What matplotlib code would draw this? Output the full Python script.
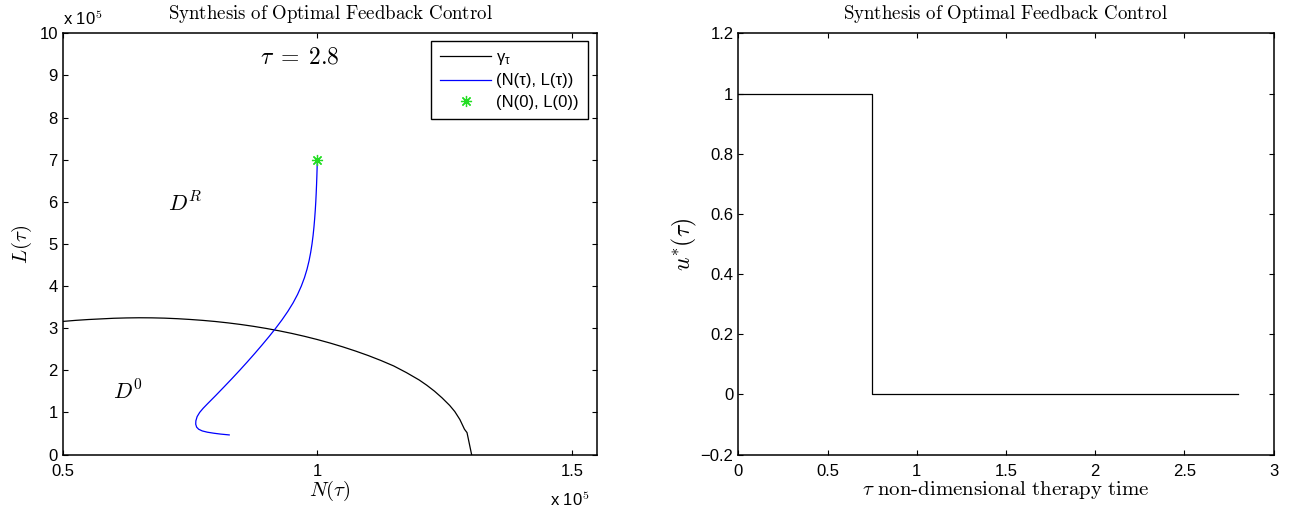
import matplotlib
matplotlib.use("Agg")
import matplotlib.pyplot as plt
from matplotlib.ticker import FuncFormatter, FixedLocator
from matplotlib.font_manager import FontProperties

plt.rcParams['mathtext.fontset'] = 'cm'
plt.rcParams['font.family'] = ['Liberation Sans', 'DejaVu Sans']
plt.rcParams['axes.unicode_minus'] = True

# ---- data (left panel: phase plane, values in absolute units) ----
gamma_N = [0.500e5, 0.525e5, 0.550e5, 0.575e5, 0.600e5, 0.625e5, 0.650e5, 0.675e5, 0.700e5,
           0.725e5, 0.750e5, 0.775e5, 0.800e5, 0.825e5, 0.850e5, 0.875e5, 0.900e5, 0.925e5,
           0.950e5, 0.975e5, 1.000e5, 1.025e5, 1.050e5, 1.075e5, 1.100e5, 1.125e5, 1.150e5,
           1.175e5, 1.200e5, 1.215e5, 1.230e5, 1.245e5, 1.260e5, 1.270e5, 1.280e5, 1.289e5,
           1.294e5, 1.303e5]
gamma_L = [3.160e5, 3.185e5, 3.205e5, 3.220e5, 3.235e5, 3.243e5, 3.247e5, 3.245e5, 3.238e5,
           3.225e5, 3.207e5, 3.185e5, 3.158e5, 3.125e5, 3.087e5, 3.043e5, 2.993e5, 2.937e5,
           2.875e5, 2.806e5, 2.730e5, 2.647e5, 2.556e5, 2.457e5, 2.350e5, 2.232e5, 2.103e5,
           1.945e5, 1.770e5, 1.645e5, 1.505e5, 1.345e5, 1.165e5, 1.020e5, 0.830e5, 0.600e5,
           0.520e5, 0.0]

traj_N = [1.0000e5, 0.9996e5, 0.9991e5, 0.9985e5, 0.9978e5, 0.9970e5, 0.9960e5, 0.9948e5,
          0.9934e5, 0.9917e5, 0.9896e5, 0.9870e5, 0.9838e5, 0.9798e5, 0.9748e5, 0.9686e5,
          0.9612e5, 0.9524e5, 0.9422e5, 0.9308e5, 0.9184e5, 0.9052e5, 0.8914e5, 0.8772e5,
          0.8626e5, 0.8476e5, 0.8322e5, 0.8164e5, 0.8004e5, 0.7840e5, 0.7760e5, 0.7690e5,
          0.7640e5, 0.7615e5, 0.7612e5, 0.7630e5, 0.7670e5, 0.7740e5, 0.7840e5, 0.7970e5,
          0.8100e5, 0.8270e5]
traj_L = [7.00e5, 6.80e5, 6.60e5, 6.40e5, 6.20e5, 6.00e5, 5.80e5, 5.60e5,
          5.40e5, 5.20e5, 5.00e5, 4.80e5, 4.60e5, 4.40e5, 4.20e5, 4.00e5,
          3.80e5, 3.60e5, 3.40e5, 3.20e5, 3.00e5, 2.80e5, 2.60e5, 2.40e5,
          2.20e5, 2.00e5, 1.80e5, 1.60e5, 1.40e5, 1.20e5, 1.10e5, 1.00e5,
          0.90e5, 0.80e5, 0.72e5, 0.65e5, 0.60e5, 0.56e5, 0.53e5, 0.505e5,
          0.485e5, 0.465e5]

start_N = [1.0e5]
start_L = [7.0e5]

tau_final = 2.8

# ---- data (right panel: bang-bang control) ----
ctrl_t = [0.0, 0.75, 2.8]
ctrl_u = [1.0, 0.0, 0.0]

x1_ticks = [0.5e5, 1.0e5, 1.5e5]
y1_ticks = [i * 1e5 for i in range(0, 11)]
x2_ticks = [0, 0.5, 1, 1.5, 2, 2.5, 3]
y2_ticks = [-0.2, 0, 0.2, 0.4, 0.6, 0.8, 1.0, 1.2]

title_txt = r'$\mathrm{Synthesis\ of\ Optimal\ Feedback\ Control}$'

fig = plt.figure(figsize=(12.93, 5.08), dpi=100)
ax1 = fig.add_axes([0.0485, 0.1053, 0.4135, 0.829])
ax2 = fig.add_axes([0.571, 0.1053, 0.414, 0.829])

TICK_FS = 12

def style(ax):
    for s in ax.spines.values():
        s.set_linewidth(1.1)
    ax.tick_params(direction='in', length=3.5, width=0.8, top=True, right=True,
                   labelsize=TICK_FS)
    ax.tick_params(axis='x', pad=6.5)
    ax.tick_params(axis='y', pad=3.5)

# left panel
ax1.plot(gamma_N, gamma_L, color='black', lw=0.9, label=r'$\mathregular{γ_{τ}}$')
ax1.plot(traj_N, traj_L, color='#0000ff', lw=0.9, label='(N(τ), L(τ))')
ax1.plot(start_N, start_L, linestyle='none', marker=(8, 2, 0), markersize=8,
         markeredgewidth=0.9, color='#22dd22', label='(N(0), L(0))')
ax1.set_xlim(0.5e5, 1.55e5)
ax1.set_ylim(0, 10e5)
ax1.xaxis.set_major_locator(FixedLocator(x1_ticks))
ax1.yaxis.set_major_locator(FixedLocator(y1_ticks))
ax1.xaxis.set_major_formatter(FuncFormatter(lambda v, p: ('%g' % (v / 1e5))))
ax1.yaxis.set_major_formatter(FuncFormatter(lambda v, p: ('%g' % (v / 1e5))))
style(ax1)
ax1.set_title(title_txt, fontsize=13.6, pad=10.5)
ax1.set_xlabel(r'$N(\tau)$', fontsize=15, labelpad=0)
ax1.set_ylabel(r'$L(\tau)$', fontsize=15, labelpad=4)
ax1.text(0.965e5, 9.42e5, r'$\tau \;=\; %g$' % tau_final, fontsize=17, ha='center', va='center')
ax1.text(0.74e5, 5.93e5, r'$D^R$', fontsize=16, ha='center', va='center')
ax1.text(0.628e5, 1.48e5, r'$D^0$', fontsize=16, ha='center', va='center')
ax1.text(0.0, 1.012, r'x 10$^5$', transform=ax1.transAxes, fontsize=TICK_FS,
         ha='left', va='bottom')
ax1.text(0.985, -0.083, r'x 10$^5$', transform=ax1.transAxes, fontsize=TICK_FS,
         ha='right', va='top')
leg = ax1.legend(loc='upper right', bbox_to_anchor=(0.9826, 0.982),
                 prop=FontProperties(family='Liberation Sans', size=12),
                 frameon=True, fancybox=False, edgecolor='black', framealpha=1,
                 handlelength=3.05, handletextpad=0.3, borderpad=0.55, labelspacing=0.38,
                 borderaxespad=0.0)
leg.get_frame().set_linewidth(1.0)

# right panel
ax2.plot(ctrl_t, ctrl_u, drawstyle='steps-post', color='black', lw=0.9)
ax2.set_xlim(0, 3)
ax2.set_ylim(-0.2, 1.2)
ax2.xaxis.set_major_locator(FixedLocator(x2_ticks))
ax2.yaxis.set_major_locator(FixedLocator(y2_ticks))
ax2.xaxis.set_major_formatter(FuncFormatter(lambda v, p: ('%g' % v).replace('-', '\u2212')))
ax2.yaxis.set_major_formatter(FuncFormatter(lambda v, p: ('%g' % v).replace('-', '\u2212')))
style(ax2)
ax2.set_title(title_txt, fontsize=13.6, pad=10.5)
ax2.set_xlabel(r'$\tau\ \mathrm{non\text{-}dimensional\ therapy\ time}$', fontsize=15, labelpad=0)
ax2.set_ylabel(r'$u^{*}(\tau)$', fontsize=17, labelpad=1)

fig.savefig('out.png', dpi=100)
